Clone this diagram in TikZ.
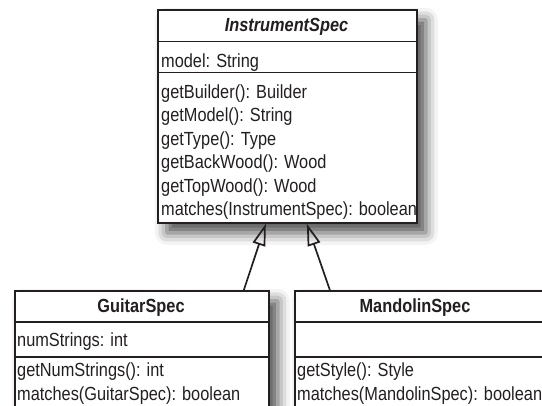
\documentclass[tikz,border=0pt]{standalone}
\usepackage{fontspec}
\setmainfont[FakeStretch=0.86]{Liberation Sans}
\usetikzlibrary{arrows.meta,shadows.blur}
\definecolor{ink}{HTML}{231F20}
\begin{document}
\begin{tikzpicture}[x=1pt,y=-1pt,
  box/.style={draw=ink, line width=1.7pt, fill=white, rectangle, inner sep=0pt, anchor=north west},
  sh/.style={blur shadow={shadow xshift=9pt, shadow yshift=-10pt, shadow blur radius=12pt, shadow opacity=70}},
  txt/.style={inner sep=0pt, anchor=base west, text=ink, font=\fontsize{19}{21}\selectfont},
  ttl/.style={inner sep=0pt, anchor=base, text=ink, font=\fontsize{19}{21}\selectfont\bfseries},
  div/.style={draw=ink, line width=1.7pt},
  inh/.style={draw=ink, line width=1.7pt, -{Triangle[open, length=22pt, width=13pt, line width=1.7pt]}}]
\useasboundingbox (0,0) rectangle (542,406);
\clip (0,0) rectangle (542,406);

% InstrumentSpec
\node[box, sh, minimum width=259pt, minimum height=213pt] (spec) at (157,9) {};
\draw[div] ([yshift=-32.5pt]spec.north west) -- ([yshift=-32.5pt]spec.north east);
\draw[div] ([yshift=-63.5pt]spec.north west) -- ([yshift=-63.5pt]spec.north east);
\node[ttl] (specT) at (286.5,31.5) {\itshape InstrumentSpec};
\node[txt] (specA) at (161,68) {model: String};
\node[txt] (specM1) at (161,98.5) {getBuilder(): Builder};
\node[txt] (specM2) at (161,122) {getModel(): String};
\node[txt] (specM3) at (161,145.5) {getType(): Type};
\node[txt] (specM4) at (161,169) {getBackWood(): Wood};
\node[txt] (specM5) at (161,192.5) {getTopWood(): Wood};
\node[txt] (specM6) at (161,216) {matches(InstrumentSpec): boolean};

% GuitarSpec
\node[box, sh, minimum width=254pt, minimum height=140pt] (guitar) at (14,290) {};
\draw[div] ([yshift=-32pt]guitar.north west) -- ([yshift=-32pt]guitar.north east);
\draw[div] ([yshift=-67pt]guitar.north west) -- ([yshift=-67pt]guitar.north east);
\node[ttl] (guitarT) at (141,312.5) {GuitarSpec};
\node[txt] (guitarA) at (17,347) {numStrings: int};
\node[txt] (guitarM1) at (17,377) {getNumStrings(): int};
\node[txt] (guitarM2) at (17,400.5) {matches(GuitarSpec): boolean};

% MandolinSpec
\node[box, sh, minimum width=270pt, minimum height=140pt] (mand) at (294,290) {};
\draw[div] ([yshift=-32pt]mand.north west) -- ([yshift=-32pt]mand.north east);
\draw[div] ([yshift=-67pt]mand.north west) -- ([yshift=-67pt]mand.north east);
\node[ttl] (mandT) at (415,312.5) {MandolinSpec};
\node[txt] (mandM1) at (297,377) {getStyle(): Style};
\node[txt] (mandM2) at (297,400.5) {matches(MandolinSpec): boolean};

% inheritance
\draw[inh] ([xshift=102pt]guitar.north) -- ([xshift=-21.5pt]spec.south);
\draw[inh] ([xshift=-100pt]mand.north) -- ([xshift=19.5pt]spec.south);
\end{tikzpicture}
\end{document}
